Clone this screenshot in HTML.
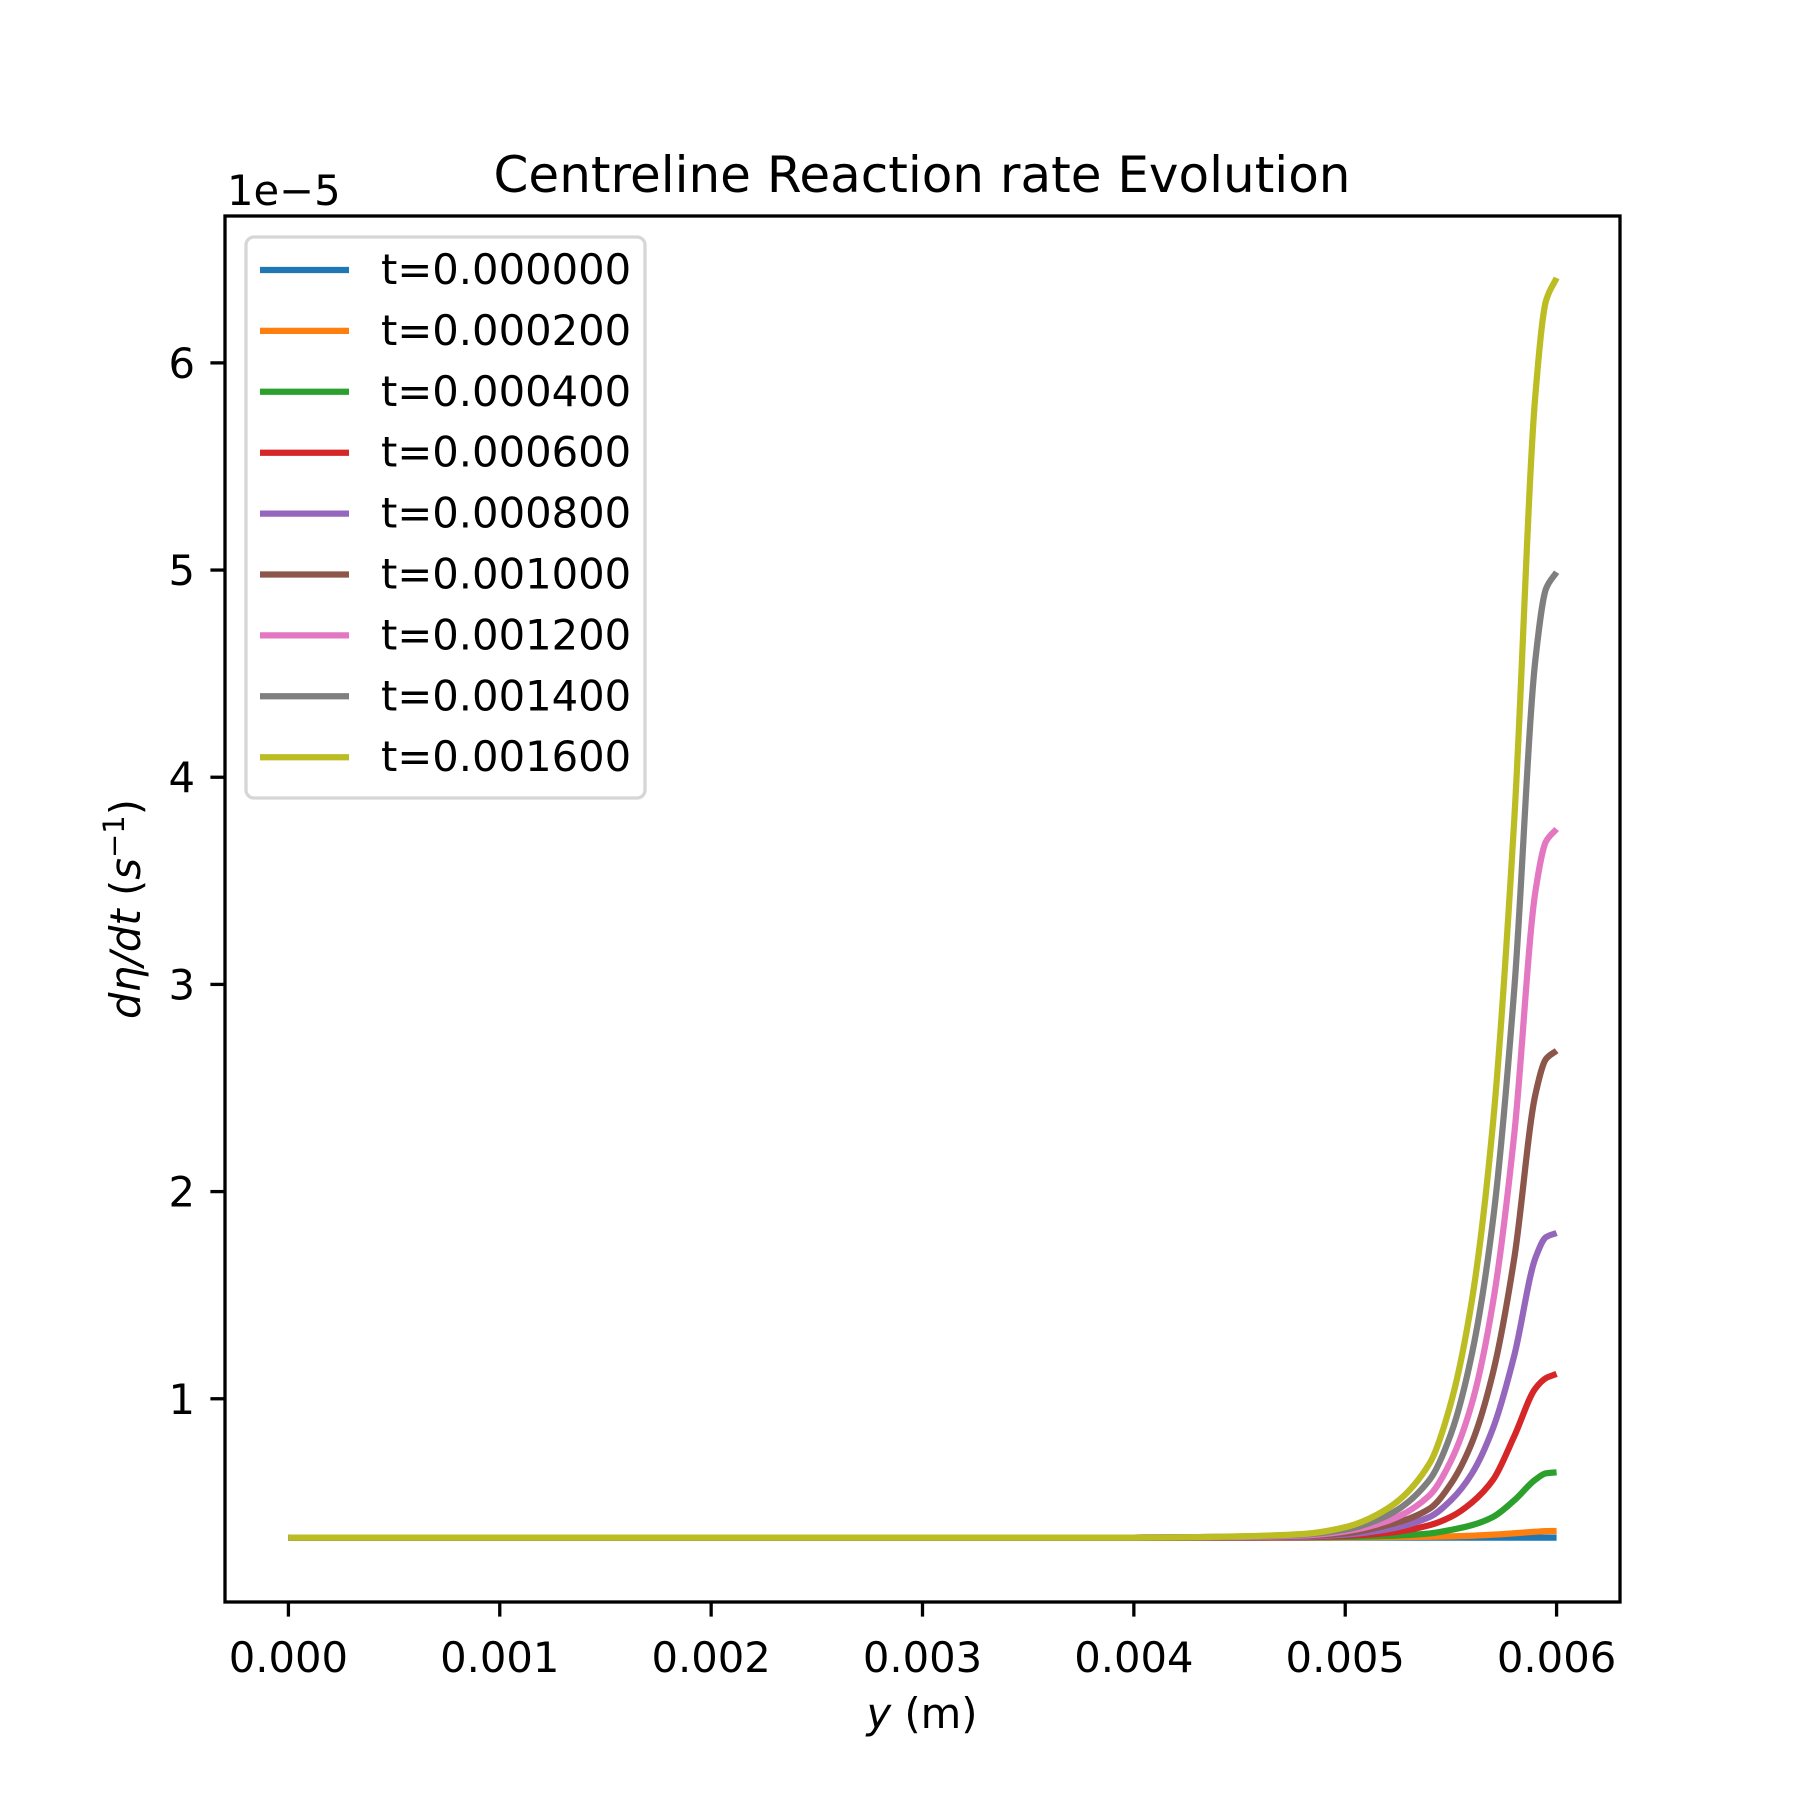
<!DOCTYPE html>
<html><head><meta charset="utf-8"><style>
html,body{margin:0;padding:0;background:#fff;}
svg{display:block;font-family:"DejaVu Sans","Liberation Sans",sans-serif;}
</style></head><body>
<svg id="chart" width="1800" height="1800" viewBox="0 0 1800 1800">
<rect width="1800" height="1800" fill="#fff"/>
<g id="plot"></g>
<g id="axes"></g>
<g id="legend"></g>
<text x="922" y="192" text-anchor="middle" font-size="50">Centreline Reaction rate Evolution</text>
<text x="227" y="205" font-size="41.7">1e−5</text>
<text x="922" y="1728" text-anchor="middle" font-size="41.7"><tspan font-style="italic">y</tspan> (m)</text>
<text transform="translate(140,909) rotate(-90)" text-anchor="middle" font-size="41.7"><tspan font-style="italic">dη/dt</tspan> (<tspan font-style="italic">s</tspan><tspan font-size="29" dy="-16">−1</tspan><tspan dy="16">)</tspan></text>
</svg>
<script>
const xs = [0,0.001,0.002,0.003,0.004,0.0045,0.0048,0.005,0.0052,0.0054,0.0055,0.0056,0.0057,0.0058,0.0059,0.00595,0.006];
const labels = ["t=0.000000","t=0.000200","t=0.000400","t=0.000600","t=0.000800","t=0.001000","t=0.001200","t=0.001400","t=0.001600"];
const colors = ["#1f77b4","#ff7f0e","#2ca02c","#d62728","#9467bd","#8c564b","#e377c2","#7f7f7f","#bcbd22"];
const s0 = [0.33,0.33,0.33,0.33,0.33,0.33,0.33,0.33,0.33,0.33,0.33,0.33,0.33,0.33,0.33,0.33,0.33];
const s1 = [0.33,0.33,0.33,0.33,0.33,0.33,0.33,0.331,0.332,0.334,0.336,0.339,0.344,0.351,0.358,0.361,0.362];
const s2 = [0.33,0.33,0.33,0.33,0.33,0.33,0.331,0.333,0.338,0.35,0.367,0.39,0.43,0.51,0.61,0.64,0.645];
const s3 = [0.33,0.33,0.33,0.33,0.33,0.33,0.332,0.338,0.352,0.39,0.43,0.50,0.61,0.82,1.05,1.10,1.12];
const s4 = [0.33,0.33,0.33,0.33,0.33,0.331,0.334,0.344,0.37,0.43,0.51,0.64,0.86,1.21,1.68,1.78,1.80];
const s5 = [0.33,0.33,0.33,0.33,0.33,0.332,0.337,0.35,0.39,0.47,0.59,0.79,1.13,1.68,2.47,2.64,2.68];
const s6 = [0.33,0.33,0.33,0.33,0.33,0.333,0.34,0.36,0.41,0.535,0.70,0.98,1.47,2.28,3.45,3.69,3.75];
const s7 = [0.33,0.33,0.33,0.33,0.33,0.335,0.344,0.368,0.437,0.61,0.83,1.22,1.87,2.98,4.57,4.91,4.99];
const s8 = [0.33,0.33,0.33,0.33,0.33,0.336,0.347,0.38,0.47,0.69,0.98,1.48,2.34,3.8,5.85,6.3,6.41];
const series = [s0,s1,s2,s3,s4,s5,s6,s7,s8];
const xTicks = [0,0.001,0.002,0.003,0.004,0.005,0.006];
const xTickLabels = ["0.000","0.001","0.002","0.003","0.004","0.005","0.006"];
const yTicks = [1,2,3,4,5,6];
const yTickLabels = ["1","2","3","4","5","6"];

const L=225,R=1620,T=216,B=1602;
const xMin=-0.0003,xMax=0.0063,yMin=0.019,yMax=6.709;
const X=v=>L+(v-xMin)/(xMax-xMin)*(R-L);
const Y=v=>B-(v-yMin)/(yMax-yMin)*(B-T);
const NS="http://www.w3.org/2000/svg";
function mk(tag,attrs,parent){const e=document.createElementNS(NS,tag);for(const k in attrs)e.setAttribute(k,attrs[k]);parent.appendChild(e);return e;}
const plot=document.getElementById('plot'),axes=document.getElementById('axes'),legend=document.getElementById('legend');

function pathFor(ys){
  const n=xs.length, px=xs.map(X), py=ys.map(Y);
  const d=[],m=new Array(n);
  for(let i=0;i<n-1;i++)d.push((py[i+1]-py[i])/(px[i+1]-px[i]));
  m[0]=d[0];m[n-1]=d[n-2];
  for(let i=1;i<n-1;i++){
    if(d[i-1]*d[i]<=0)m[i]=0;
    else{const h0=px[i]-px[i-1],h1=px[i+1]-px[i];const w1=2*h1+h0,w2=h1+2*h0;m[i]=(w1+w2)/(w1/d[i-1]+w2/d[i]);}
  }
  let s=`M${px[0]},${py[0]}`;
  for(let i=0;i<n-1;i++){
    const h=(px[i+1]-px[i])/3;
    s+=` C${px[i]+h},${py[i]+m[i]*h} ${px[i+1]-h},${py[i+1]-m[i+1]*h} ${px[i+1]},${py[i+1]}`;
  }
  return s;
}
series.forEach((ys,i)=>{
  const el=mk('path',{d:pathFor(ys),fill:'none',stroke:colors[i],'stroke-width':6.25,'stroke-linejoin':'round'},plot);
  
  
});

const frame=mk('rect',{x:L,y:T,width:R-L,height:B-T,fill:'none',stroke:'#000','stroke-width':3.3},axes);


xTicks.forEach((v,i)=>{
  const t=mk('line',{x1:X(v),x2:X(v),y1:B,y2:B+14.6,stroke:'#000','stroke-width':3.3},axes);
  
  
  const tx=mk('text',{x:X(v),y:1672,'text-anchor':'middle','font-size':41.7},axes);
  tx.textContent=xTickLabels[i];
  
  
});
yTicks.forEach((v,i)=>{
  const t=mk('line',{x1:L-14.6,x2:L,y1:Y(v),y2:Y(v),stroke:'#000','stroke-width':3.3},axes);
  
  
  const tx=mk('text',{x:195,y:Y(v)+15,'text-anchor':'end','font-size':41.7},axes);
  tx.textContent=yTickLabels[i];
  
  
});

const box=mk('rect',{x:246,y:237,width:399,height:561,rx:8,fill:'#fff','fill-opacity':0.8,stroke:'#d6d6d6','stroke-width':3.3},legend);


labels.forEach((lab,i)=>{
  const y=270+i*60.9;
  const ln=mk('line',{x1:260,x2:349,y1:y,y2:y,stroke:colors[i],'stroke-width':6.25},legend);
  
  
  const tx=mk('text',{x:381,y:y+14,'font-size':41.7},legend);
  tx.textContent=lab;
  
  
});
</script>
</body></html>
